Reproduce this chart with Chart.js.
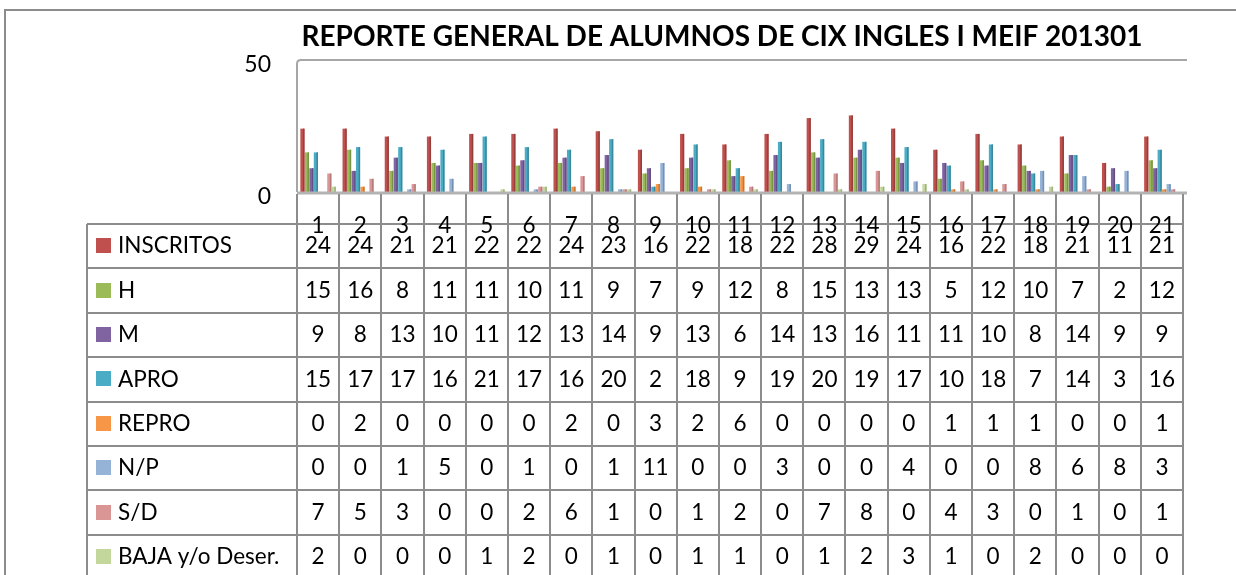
<!DOCTYPE html>
<html>
<head>
<meta charset="utf-8">
<script src="https://cdn.jsdelivr.net/npm/chart.js@4.4.1/dist/chart.umd.min.js"></script>
<style>
    html, body { margin: 0; padding: 0; background: #ffffff; }
    #wrap { width: 1236px; height: 575px; position: relative; }
</style>
</head>
<body>
<div id="wrap"><canvas id="chart-area"></canvas></div>
<script>
    'use strict';

    var chartTitle = 'REPORTE GENERAL DE ALUMNOS DE CIX INGLES I MEIF 201301';
    var categories = ['1', '2', '3', '4', '5', '6', '7', '8', '9', '10', '11', '12', '13', '14', '15', '16', '17', '18', '19', '20', '21'];
    var yTicks = [0, 50];

    var seriesNames = ['INSCRITOS', 'H', 'M', 'APRO', 'REPRO', 'N/P', 'S/D', 'BAJA y/o Deser.'];
    var inscritos = [24, 24, 21, 21, 22, 22, 24, 23, 16, 22, 18, 22, 28, 29, 24, 16, 22, 18, 21, 11, 21];
    var hombres = [15, 16, 8, 11, 11, 10, 11, 9, 7, 9, 12, 8, 15, 13, 13, 5, 12, 10, 7, 2, 12];
    var mujeres = [9, 8, 13, 10, 11, 12, 13, 14, 9, 13, 6, 14, 13, 16, 11, 11, 10, 8, 14, 9, 9];
    var apro = [15, 17, 17, 16, 21, 17, 16, 20, 2, 18, 9, 19, 20, 19, 17, 10, 18, 7, 14, 3, 16];
    var repro = [0, 2, 0, 0, 0, 0, 2, 0, 3, 2, 6, 0, 0, 0, 0, 1, 1, 1, 0, 0, 1];
    var noPresento = [0, 0, 1, 5, 0, 1, 0, 1, 11, 0, 0, 3, 0, 0, 4, 0, 0, 8, 6, 8, 3];
    var sinDerecho = [7, 5, 3, 0, 0, 2, 6, 1, 0, 1, 2, 0, 7, 8, 0, 4, 3, 0, 1, 0, 1];
    var bajas = [2, 0, 0, 0, 1, 2, 0, 1, 0, 1, 1, 0, 1, 2, 3, 1, 0, 2, 0, 0, 0];

    var seriesData = [inscritos, hombres, mujeres, apro, repro, noPresento, sinDerecho, bajas];
    var colorPalette = ['#C0504D', '#9BBB59', '#8064A2', '#4BACC6', '#F79646', '#95B3D7', '#D99694', '#C3D69B'];
    var shadePalette = ['#96403D', '#7A9446', '#654F80', '#3A889C', '#C47737', '#7690B2', '#B37B79', '#9FAF7F'];

    var fontFamily = 'Lato, Carlito, Calibri, sans-serif';
    var lineGray = '#8c8c8c';

    var datasets = seriesNames.map(function(name, i) {
        return {
            label: name,
            data: seriesData[i],
            backgroundColor: colorPalette[i],
            borderWidth: 0
        };
    });

    // draws the title, the frame, the back wall and the data table under the plot
    var excelLook = {
        id: 'excelLook',
        beforeDatasetsDraw: function(chart) {
            var ctx = chart.ctx;
            var area = chart.chartArea;
            ctx.save();
            // back wall edges
            ctx.strokeStyle = '#a6a6a6';
            ctx.lineWidth = 2;
            ctx.beginPath();
            ctx.moveTo(area.left, area.bottom);
            ctx.lineTo(area.left, area.top + 4);
            ctx.quadraticCurveTo(area.left, area.top, area.left + 4, area.top);
            ctx.lineTo(area.right + 4, area.top);
            ctx.stroke();
            ctx.restore();
        },
        afterDatasetsDraw: function(chart) {
            var ctx = chart.ctx;
            var area = chart.chartArea;
            var xScale = chart.scales.x;
            var colW = (area.right - area.left) / categories.length;
            var tableLeft = 87;
            var tableTop = 224;
            var rowH = 44.4;

            ctx.save();

            // darker right side on each bar, a bit like the 3d columns
            chart.data.datasets.forEach(function(ds, i) {
                chart.getDatasetMeta(i).data.forEach(function(bar) {
                    var h = bar.base - bar.y;
                    if (h <= 0) return;
                    ctx.fillStyle = shadePalette[i];
                    ctx.fillRect(bar.x + bar.width / 2 - 1.5, bar.y, 1.5, h);
                });
            });

            // floor
            ctx.strokeStyle = '#b3b3b3';
            ctx.lineWidth = 3;
            ctx.beginPath();
            ctx.moveTo(area.left, area.bottom + 1);
            ctx.lineTo(area.right + 4, area.bottom + 1);
            ctx.stroke();

            // outer frame
            ctx.strokeStyle = lineGray;
            ctx.lineWidth = 2;
            ctx.beginPath();
            ctx.moveTo(5, 580);
            ctx.lineTo(5, 10);
            ctx.lineTo(1240, 10);
            ctx.stroke();

            // title
            ctx.fillStyle = '#000000';
            ctx.font = 'bold 28px ' + fontFamily;
            ctx.textAlign = 'center';
            ctx.textBaseline = 'middle';
            ctx.fillText(chartTitle, 722, 37);

            // table grid
            ctx.strokeStyle = lineGray;
            ctx.lineWidth = 2;
            ctx.beginPath();
            for (var c = 0; c <= categories.length; c++) {
                var x = Math.round(area.left + c * colW);
                ctx.moveTo(x, area.bottom + 2);
                ctx.lineTo(x, 580);
            }
            ctx.moveTo(tableLeft, tableTop);
            ctx.lineTo(tableLeft, 580);
            for (var r = 0; r <= seriesNames.length; r++) {
                var y = Math.round(tableTop + r * rowH);
                ctx.moveTo(tableLeft, y);
                ctx.lineTo(area.right, y);
            }
            ctx.stroke();

            // category labels
            ctx.font = '22.5px ' + fontFamily;
            ctx.fillStyle = '#000000';
            ctx.textAlign = 'center';
            categories.forEach(function(cat, i) {
                ctx.fillText(cat, xScale.getPixelForValue(i), 226);
            });

            // rows
            seriesNames.forEach(function(name, s) {
                var cy = tableTop + s * rowH + rowH / 2;
                ctx.fillStyle = colorPalette[s];
                ctx.fillRect(96, Math.round(cy - 8), 15, 15);
                ctx.fillStyle = '#000000';
                ctx.textAlign = 'left';
                ctx.fillText(name, 118, cy);
                ctx.textAlign = 'center';
                seriesData[s].forEach(function(v, i) {
                    ctx.fillText(String(v), xScale.getPixelForValue(i), cy);
                });
            });

            ctx.restore();
        }
    };

    var config = {
        type: 'bar',
        data: {
            labels: categories,
            datasets: datasets
        },
        options: {
            responsive: false,
            animation: false,
            devicePixelRatio: 1,
            layout: {
                padding: {
                    left: 0,
                    right: 53,
                    top: 60,
                    bottom: 383
                }
            },
            plugins: {
                legend: { display: false },
                title: { display: false },
                tooltip: { enabled: false }
            },
            datasets: {
                bar: {
                    categoryPercentage: 0.85,
                    barPercentage: 0.92
                }
            },
            scales: {
                x: {
                    display: false
                },
                y: {
                    min: 0,
                    max: 50,
                    afterFit: function(scale) {
                        scale.width = 297;
                    },
                    afterBuildTicks: function(scale) {
                        scale.ticks = yTicks.map(function(v) { return { value: v }; });
                    },
                    grid: { display: false },
                    border: { display: false },
                    ticks: {
                        padding: 18,
                        labelOffset: 5,
                        color: '#000000',
                        font: { family: fontFamily, size: 23 }
                    }
                }
            }
        },
        plugins: [excelLook]
    };

    var canvas = document.getElementById('chart-area');
    canvas.width = 1236;
    canvas.height = 575;
    window.myChart = new Chart(canvas.getContext('2d'), config);
</script>
</body>
</html>
